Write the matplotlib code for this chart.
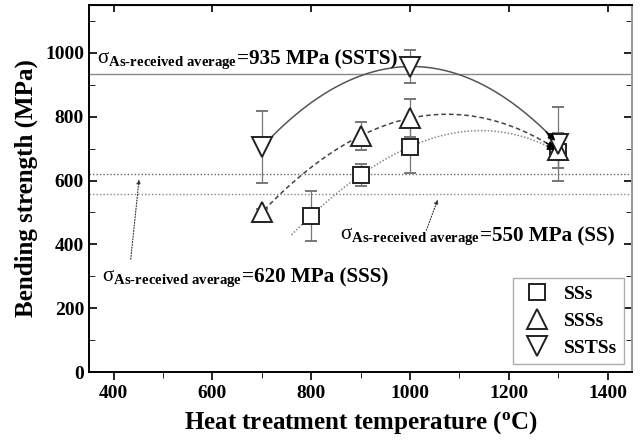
import numpy as np
import matplotlib
matplotlib.use("Agg")
from matplotlib import pyplot as plt
from matplotlib.lines import Line2D

# data
ss_x = [800, 900, 1000, 1300]
ss_y = [490, 617, 706, 690]
ss_err = [78, 34, 82, 50]

sss_x = [700, 900, 1000, 1300]
sss_y = [500, 740, 795, 695]
sss_err = [10, 43, 60, 55]

ssts_x = [700, 1000, 1300]
ssts_y = [705, 957, 715]
ssts_err = [113, 52, 115]

ref_ssts = 935
ref_sss = 620
ref_ss = 558

plt.rcParams["font.family"] = ["Liberation Serif", "DejaVu Serif"]
plt.rcParams["font.weight"] = "bold"
plt.rcParams["mathtext.fontset"] = "custom"
plt.rcParams["mathtext.rm"] = "Liberation Serif:weight=normal"
plt.rcParams["mathtext.it"] = "Liberation Serif:weight=normal"
plt.rcParams["mathtext.bf"] = "Liberation Serif:bold"

fig = plt.figure(figsize=(6.4, 4.42), dpi=100)
ax = fig.add_axes([0.139, 0.158, 0.849, 0.831])

# reference lines
ax.axhline(ref_ssts, color="#8a8a8a", lw=1.0)
ax.axhline(ref_sss, color="#666666", lw=1.0, ls=(0, (1, 1.5)))
ax.axhline(ref_ss, color="#888888", lw=1.0, ls=(0, (1, 1.5)))

# trend curves (polynomial fits of each series)
def trend(x, y, x0, deg, style, color):
    p = np.polyfit(x, y, deg)
    xs = np.linspace(x0, x[-1] - 8, 200)
    ax.plot(xs, np.polyval(p, xs), ls=style, color=color, lw=1.1)
    ax.annotate("", xy=(x[-1] - 2, np.polyval(p, x[-1] - 2)),
                xytext=(xs[-8], np.polyval(p, xs[-8])),
                arrowprops=dict(arrowstyle="-|>", color="black", lw=1.0,
                                mutation_scale=10))

trend(ssts_x, ssts_y, 710, 2, "-", "#555555")
trend(sss_x, sss_y, 705, 3, (0, (3, 2)), "#444444")
trend(ss_x, ss_y, 760, 3, (0, (1, 1.2)), "#888888")

ekw = dict(ecolor="#777777", elinewidth=0.9, capsize=4, capthick=0.9, ls="none")
mk = dict(mfc="white", mec="#222222", mew=1.4)
ax.errorbar(ss_x, ss_y, yerr=ss_err, marker="s", ms=11, **mk, **ekw)
ax.errorbar(sss_x, sss_y, yerr=sss_err, marker="^", ms=14, **mk, **ekw)
ax.errorbar(ssts_x, ssts_y, yerr=ssts_err, marker="v", ms=14, **mk, **ekw)

sub = r"$\mathrm{\sigma}_{\mathbf{As}\text{-}\mathbf{received\ average}}$"
s1 = ax.text(366, 978, sub, fontsize=15.2, va="center", ha="left")
ax.annotate("=935 MPa (SSTS)", xy=(1.0, 0.5), xycoords=s1,
            va="center", ha="left", fontsize=15.2, fontweight="bold")
s2 = ax.text(376, 295, sub, fontsize=15.2, va="center", ha="left")
ax.annotate("=620 MPa (SSS)", xy=(1.0, 0.5), xycoords=s2,
            va="center", ha="left", fontsize=15.2, fontweight="bold")
s3 = ax.text(858, 425, sub, fontsize=15.2, va="center", ha="left")
ax.annotate("=550 MPa (SS)", xy=(1.0, 0.5), xycoords=s3,
            va="center", ha="left", fontsize=15.2, fontweight="bold")

# pointer arrows
ax.annotate("", xy=(452, ref_sss - 8), xytext=(434, 345),
            arrowprops=dict(arrowstyle="-|>", color="#333333", lw=0.8,
                            ls=(0, (1, 1.5)), mutation_scale=6))
ax.annotate("", xy=(1058, ref_ss - 10), xytext=(1031, 436),
            arrowprops=dict(arrowstyle="-|>", color="#333333", lw=0.8,
                            ls=(0, (1, 1.5)), mutation_scale=6))

ax.set_xlim(350, 1450)
ax.set_ylim(0, 1150)
ax.set_xticks([400, 600, 800, 1000, 1200, 1400])
ax.set_yticks([0, 200, 400, 600, 800, 1000])
ax.set_xticks(np.arange(500, 1400, 200), minor=True)
ax.set_yticks(np.arange(100, 1150, 200), minor=True)
ax.tick_params(axis="both", labelsize=14, width=1.2)
ax.tick_params(axis="y", which="both", direction="in", right=True)
ax.tick_params(axis="x", which="both", direction="out", top=False)
ax.tick_params(which="major", length=6)
ax.tick_params(which="minor", length=4)
top = ax.secondary_xaxis("top")
top.tick_params(direction="in", labeltop=False, length=5, width=1.2)
for lab in ax.get_xticklabels() + ax.get_yticklabels():
    lab.set_fontweight("bold")
for sp in ax.spines.values():
    sp.set_linewidth(1.4)
ax.spines["right"].set_color("#999999")

ax.set_xlabel(r"Heat treatment temperature ($\mathbf{^{o}}$C)", fontsize=18,
              fontweight="bold", labelpad=5)
ax.set_ylabel("Bending strength (MPa)", fontsize=18, fontweight="bold",
              labelpad=5)

handles = [Line2D([], [], ls="none", marker=m, ms=s, **mk)
           for m, s in [("s", 12), ("^", 15), ("v", 15)]]
leg = ax.legend(handles, ["SSs", "SSSs", "SSTSs"], loc="lower right",
                bbox_to_anchor=(0.985, 0.022), borderaxespad=0, fontsize=14,
                frameon=True, fancybox=False, edgecolor="#999999",
                handletextpad=0.5, borderpad=0.35, labelspacing=0.5,
                handlelength=1.8)
for t in leg.get_texts():
    t.set_fontweight("bold")

fig.savefig("out.png", dpi=100)
